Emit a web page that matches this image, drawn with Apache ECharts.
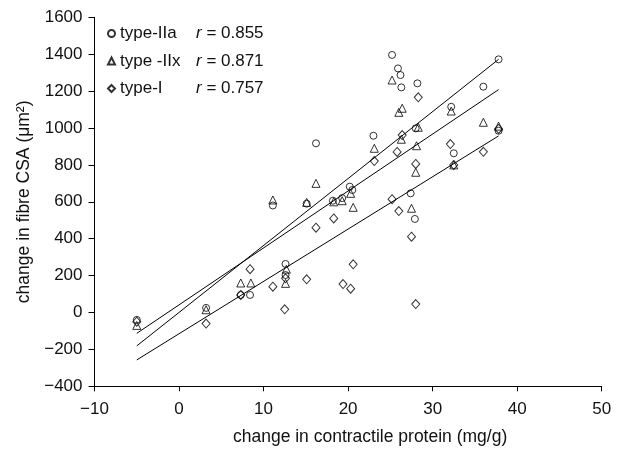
<!DOCTYPE html>
<html>
<head>
<meta charset="utf-8">
<script src="https://cdn.jsdelivr.net/npm/echarts@6/dist/echarts.min.js"></script>
<style>
  html, body { margin: 0; padding: 0; background: #fff; }
  #chart { width: 622px; height: 452px; }
</style>
</head>
<body>
<div id="chart"></div>
<script>
// points: [change in contractile protein, change in fibre CSA]
const typeIIa = [
  [-5, -40], [3.2, 25], [7.3, 95], [8.4, 95], [11.1, 580], [12.6, 263], [12.6, 203],
  [15.1, 590], [16.2, 917], [18.2, 606], [19.3, 620], [20.2, 682], [20.5, 664],
  [23.0, 958], [25.2, 1396], [25.9, 1323], [26.2, 1287], [26.3, 1220], [27.4, 646],
  [27.9, 507], [28.0, 998], [28.2, 1242], [32.2, 1115], [32.5, 863], [36.0, 1224],
  [37.8, 1372], [37.8, 985]
];
const typeIIx = [
  [-5, -70], [3.2, 15], [7.3, 160], [8.5, 160], [11.1, 610], [12.7, 235], [12.6, 158],
  [15.1, 597], [16.2, 700], [18.3, 600], [19.3, 606], [20.3, 646], [20.6, 570],
  [23.1, 890], [25.2, 1260], [26.0, 1085], [26.4, 1107], [26.3, 939], [27.5, 565],
  [28.0, 760], [28.3, 1004], [28.1, 904], [32.2, 1092], [32.5, 800], [36.0, 1031],
  [37.8, 1010]
];
const typeI = [
  [-5, -50], [3.2, -60], [7.3, 95], [8.4, 235], [11.1, 140], [12.6, 185], [12.5, 17],
  [15.1, 180], [16.2, 460], [18.3, 510], [19.4, 154], [20.3, 129], [20.6, 261],
  [23.1, 821], [25.2, 614], [25.8, 870], [26.0, 550], [26.4, 962], [27.5, 411],
  [28.0, 46], [28.0, 805], [28.3, 1166], [32.1, 913], [32.5, 800], [36.0, 871],
  [37.8, 995]
];

// regression lines (end points)
const fitIIa = [[-5, -181], [37.8, 1372]];
const fitIIx = [[-5, -113], [37.8, 1208]];
const fitI = [[-5, -257], [37.8, 957]];

const seriesNames = ['type-IIa', 'type -IIx', 'type-I'];
const rValues = ['0.855', '0.871', '0.757'];

const font = 'Liberation Sans, Arial, Helvetica, sans-serif';
const minus = v => String(v).replace('-', '\u2212');

const chart = echarts.init(document.getElementById('chart'), null, { renderer: 'canvas' });

const hollow = { color: 'rgba(0,0,0,0)', borderColor: '#000', borderWidth: 1 };
const fitStyle = { color: '#000', width: 1 };

const option = {
  animation: false,
  backgroundColor: '#fff',
  grid: { left: 94.5, right: 20.3, top: 17.3, bottom: 65.7 },
  legend: {
    data: seriesNames,
    orient: 'vertical',
    left: 102,
    top: 20,
    itemWidth: 7,
    itemHeight: 7,
    itemGap: 10.5,
    formatter: function (name) {
      const i = seriesNames.indexOf(name);
      return '{n|' + name + '}{i|r}{v| = ' + rValues[i] + '}';
    },
    textStyle: {
      fontFamily: font,
      fontSize: 17,
      color: '#111',
      rich: {
        n: { width: 76, fontSize: 17, fontFamily: font, lineHeight: 17 },
        i: { fontStyle: 'italic', fontSize: 17, fontFamily: font, lineHeight: 17 },
        v: { fontSize: 17, fontFamily: font, lineHeight: 17 }
      }
    }
  },
  xAxis: {
    type: 'value',
    min: -10, max: 50, interval: 10,
    name: 'change in contractile protein (mg/g)',
    nameLocation: 'middle',
    nameGap: 42,
    nameTextStyle: { fontFamily: font, fontSize: 17.5, color: '#111', padding: [0, 0, 0, 44] },
    axisLine: { onZero: false, lineStyle: { color: '#000', width: 1 } },
    axisTick: { length: 5, lineStyle: { color: '#000' } },
    axisLabel: { fontFamily: font, fontSize: 17, color: '#111', margin: 15, formatter: minus },
    splitLine: { show: false }
  },
  yAxis: {
    type: 'value',
    min: -400, max: 1600, interval: 200,
    name: 'change in fibre CSA (\u03bcm\u00b2)',
    nameLocation: 'middle',
    nameRotate: 90,
    nameGap: 57,
    nameTextStyle: { fontFamily: font, fontSize: 17.5, color: '#111' },
    axisLine: { show: true, onZero: false, lineStyle: { color: '#000', width: 1 } },
    axisTick: { show: true, length: 6, lineStyle: { color: '#000' } },
    axisLabel: { fontFamily: font, fontSize: 17, color: '#111', margin: 12, formatter: minus },
    splitLine: { show: false }
  },
  series: [
    { name: seriesNames[0], type: 'scatter', symbol: 'circle', symbolSize: 7, itemStyle: hollow, data: typeIIa, z: 3 },
    { name: seriesNames[1], type: 'scatter', symbol: 'triangle', symbolSize: 8, itemStyle: hollow, data: typeIIx, z: 3 },
    { name: seriesNames[2], type: 'scatter', symbol: 'diamond', symbolSize: [8, 9], itemStyle: hollow, data: typeI, z: 3 },
    { type: 'line', data: fitIIa, showSymbol: false, lineStyle: fitStyle, silent: true },
    { type: 'line', data: fitIIx, showSymbol: false, lineStyle: fitStyle, silent: true },
    { type: 'line', data: fitI, showSymbol: false, lineStyle: fitStyle, silent: true }
  ]
};

chart.setOption(option);
</script>
</body>
</html>
